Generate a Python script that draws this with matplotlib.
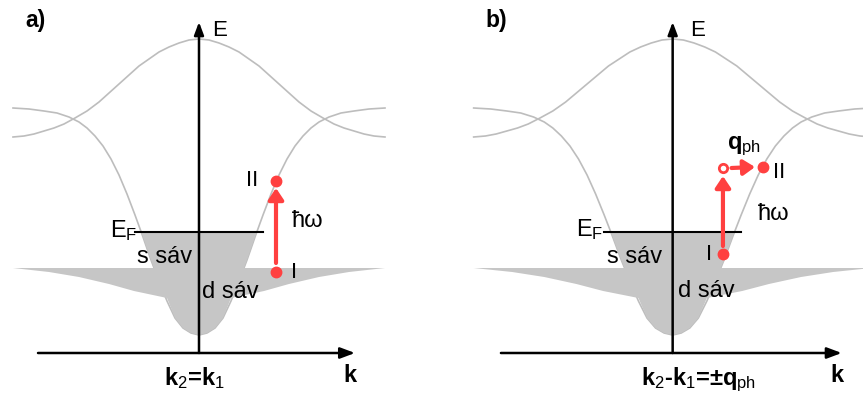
import numpy as np
import matplotlib.pyplot as plt

plt.rcParams['font.family'] = 'Liberation Sans'
plt.rcParams['mathtext.fontset'] = 'custom'
plt.rcParams['mathtext.rm'] = 'Liberation Sans'
plt.rcParams['mathtext.bf'] = 'Liberation Sans:bold'
plt.rcParams['mathtext.it'] = 'Liberation Sans:italic'

# band shapes, half side (k >= 0); mirrored for k < 0
k_s = np.array([0, 8, 16, 24, 32, 40, 48, 56, 64, 72, 80, 88, 96, 104,
                112, 120, 130, 142, 155, 170, 186])
E_s = np.array([18, 20, 25, 35, 52, 72, 93, 116, 138, 159, 178, 194, 207, 217,
                225, 231, 236, 240, 242, 244, 245])
k_up = np.array([0, 10, 20, 30, 40, 50, 60, 70, 80, 90, 100, 112, 124, 135,
                 145, 155, 165, 175, 186])
E_up = np.array([314, 313, 310, 306, 301, 294, 287, 278, 269, 260, 251, 242, 235, 229,
                 225, 222, 219, 217, 216])
k_d = np.array([32, 65, 90, 120, 150, 186])
E_d_low = np.array([55, 62, 69, 76, 81, 85])
E_d_top = 85
E_fermi = 121
k_fermi = 64

# transitions
a_I = (77, 81)
a_II = (77, 172)
b_I = (47, 99)
b_mid = (47, 185)
b_II = (84, 186)

line_gray = '#bdbdbd'
fill_gray = '#c6c6c6'
red = '#ff4040'


def mirror(k, E):
    return np.concatenate([-k[::-1], k[1:]]), np.concatenate([E[::-1], E[1:]])


def draw_bands(ax, k_left, k_right):
    ks, es = mirror(k_s, E_s)
    ku, eu = mirror(k_up, E_up)
    ax.plot(ks, es, color=line_gray, lw=1.2, zorder=1)
    ax.plot(ku, eu, color=line_gray, lw=1.2, zorder=1)

    # filled part: s band below E_F plus the d band
    k_notch = np.interp(E_d_top, E_s, k_s)
    k_ef = np.interp(E_fermi, E_s, k_s)
    low = k_s < k_d[0]
    top = (E_s > E_d_top) & (E_s < E_fermi)
    rk = np.concatenate([k_s[low], k_d, [k_notch], k_s[top], [k_ef]])
    re = np.concatenate([E_s[low], E_d_low, [E_d_top], E_s[top], [E_fermi]])
    px = np.concatenate([rk, -rk[::-1]])
    py = np.concatenate([re, re[::-1]])
    ax.fill(px, py, color=fill_gray, lw=0, zorder=2)

    ax.plot([-k_fermi, k_fermi], [E_fermi, E_fermi], color='k', lw=1.5, zorder=4)

    ax.annotate('', xy=(k_right, 0), xytext=(k_left, 0),
                arrowprops=dict(arrowstyle='-|>,head_length=0.4,head_width=0.15',
                                color='k', lw=1.8, mutation_scale=22,
                                shrinkA=0, shrinkB=0), zorder=5)
    ax.annotate('', xy=(0, 331), xytext=(0, 0),
                arrowprops=dict(arrowstyle='-|>,head_length=0.4,head_width=0.15',
                                color='k', lw=1.8, mutation_scale=19,
                                shrinkA=0, shrinkB=0), zorder=5)


def red_arrow(ax, start, end, ms=15):
    ax.annotate('', xy=end, xytext=start,
                arrowprops=dict(arrowstyle='-|>,head_length=0.45,head_width=0.3',
                                color=red, lw=3, mutation_scale=ms,
                                shrinkA=0, shrinkB=0), zorder=6)


fig = plt.figure(figsize=(8.63, 3.99), dpi=100)
ax1 = fig.add_axes([0, 0, 430 / 863, 1])
ax2 = fig.add_axes([430 / 863, 0, 433 / 863, 1])
ax1.set_xlim(-199, 231)
ax2.set_xlim(-226.8, 177.9)
for ax in (ax1, ax2):
    ax.set_ylim(-46, 353)
    ax.axis('off')

# ---- a) ----
draw_bands(ax1, -161, 156)
red_arrow(ax1, (a_I[0], a_I[1] + 9), (a_II[0], a_II[1] - 7))
ax1.plot(*a_I, 'o', color=red, ms=7.5, zorder=7)
ax1.plot(*a_II, 'o', color=red, ms=7.5, zorder=7)

ax1.text(-174, 332, 'a)', fontsize=16.5, fontweight='bold', va='center')
ax1.text(13, 323, 'E', fontsize=16, va='center')
ax1.text(-62, 116, r'E$_\mathrm{F}$', fontsize=17, ha='right', va='baseline')
ax1.text(-62, 90, 's sáv', fontsize=17, va='baseline')
ax1.text(3, 55, 'd sáv', fontsize=17, va='baseline')
ax1.text(59, 173, 'II', fontsize=16, ha='right', va='center')
ax1.text(92, 80, 'I', fontsize=16, va='center')
ax1.text(93, 126, 'ħω', fontsize=17, va='baseline')
ax1.text(144, -29, 'k', fontsize=17, fontweight='bold', va='baseline')
ax1.text(-5, -32, r'$\mathbf{k}_2$=$\mathbf{k}_1$', fontsize=17,
         fontweight='bold', ha='center', va='baseline')

# ---- b) ----
draw_bands(ax2, -160.5, 158)
red_arrow(ax2, (b_I[0], b_I[1] + 8), (b_mid[0], b_mid[1] - 8))
red_arrow(ax2, (b_mid[0] + 8, b_mid[1]), (b_II[0] - 7, b_II[1]))
ax2.plot(*b_I, 'o', color=red, ms=7.5, zorder=7)
ax2.plot(*b_II, 'o', color=red, ms=7.5, zorder=7)
ax2.plot(*b_mid, 'o', mfc='white', mec=red, mew=2, ms=6, zorder=7)

ax2.text(-175, 332, 'b)', fontsize=16.5, fontweight='bold', va='center')
ax2.text(16, 323, 'E', fontsize=16, va='center')
ax2.text(-65, 117, r'E$_\mathrm{F}$', fontsize=17, ha='right', va='baseline')
ax2.text(-61.5, 90, 's sáv', fontsize=17, va='baseline')
ax2.text(5, 56, 'd sáv', fontsize=17, va='baseline')
ax2.text(37, 99, 'I', fontsize=16, ha='right', va='center')
ax2.text(94, 181, 'II', fontsize=16, va='center')
ax2.text(80, 133, 'ħω', fontsize=17, va='baseline')
ax2.text(51, 204, r'$\mathbf{q}_\mathrm{ph}$', fontsize=17, va='baseline')
ax2.text(147, -29, 'k', fontsize=17, fontweight='bold', va='baseline')
ax2.text(24.6, -32, r'$\mathbf{k}_2$-$\mathbf{k}_1$=±$\mathbf{q}_\mathrm{ph}$',
         fontsize=17, fontweight='bold', ha='center', va='baseline')

fig.savefig('out.png', dpi=100)
